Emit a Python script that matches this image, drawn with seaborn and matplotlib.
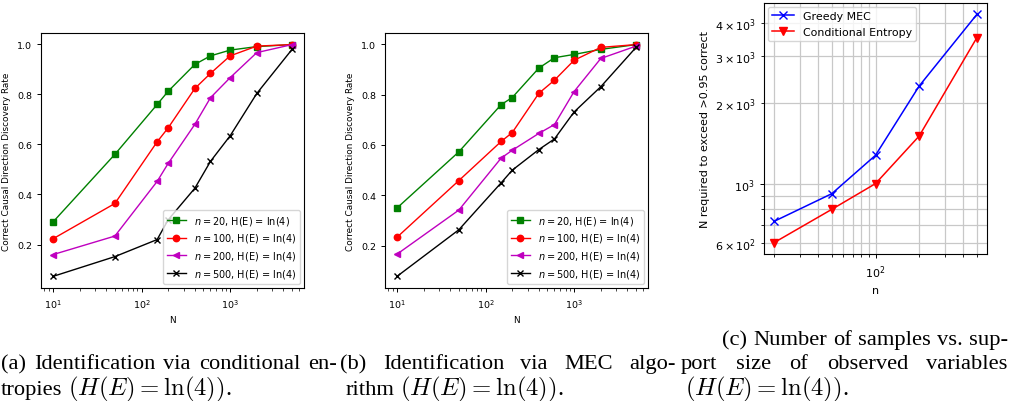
import matplotlib
matplotlib.use("Agg")
import matplotlib.pyplot as plt
import seaborn as sns
import pandas as pd

# ---------------- data ----------------
N_vals = [10, 50, 150, 200, 400, 600, 1000, 2000, 5000]
a_n20 = [0.29, 0.56, 0.759, 0.812, 0.919, 0.953, 0.976, 0.990, 0.998]
a_n100 = [0.223, 0.364, 0.610, 0.666, 0.823, 0.883, 0.953, 0.992, 0.998]
a_n200 = [0.160, 0.234, 0.452, 0.524, 0.680, 0.786, 0.866, 0.966, 0.998]
a_n500 = [0.073, 0.152, 0.220, 0.299, 0.425, 0.532, 0.634, 0.803, 0.979]
b_n20 = [0.350, 0.573, 0.760, 0.788, 0.905, 0.946, 0.959, 0.979, 0.998]
b_n100 = [0.234, 0.459, 0.614, 0.649, 0.805, 0.857, 0.936, 0.987, 0.998]
b_n200 = [0.167, 0.342, 0.548, 0.579, 0.646, 0.681, 0.812, 0.943, 0.992]
b_n500 = [0.079, 0.264, 0.450, 0.500, 0.582, 0.624, 0.731, 0.831, 0.987]
series_labels = [r"$n = 20$, H(E) = ln(4)", r"$n = 100$, H(E) = ln(4)",
                 r"$n = 200$, H(E) = ln(4)", r"$n = 500$, H(E) = ln(4)"]
support_n = [20, 50, 100, 200, 500]
greedy_mec = [722, 917, 1277, 2322, 4310]
cond_entropy = [601, 801, 1000, 1508, 3525]
method_labels = ["Greedy MEC", "Conditional Entropy"]

cap_a = ["(a) Identification via conditional en-", "tropies"]
cap_b = ["(b) Identification via MEC algo-", "rithm"]
cap_c = ["(c) Number of samples vs.  sup-", "port size of observed variables", ""]
cap_math = r"$(H(E) = \ln(4))$."

# ---------------- figure ----------------
W, H = 1011, 402
fig = plt.figure(figsize=(W / 100, H / 100), dpi=100)


def px_axes(l, r, t, b):
    return fig.add_axes([l / W, 1 - b / H, (r - l) / W, (b - t) / H])


ax_a = px_axes(41, 304, 34, 289)
ax_b = px_axes(385, 648, 34, 289)
ax_c = px_axes(764, 987, 4, 255)

FS_LEG = 7.0
styles = [("g", "s", 4.3), ("r", "o", 4.6), ("m", "<", 4.6), ("k", "x", 4.6)]

for ax, ys in [(ax_a, [a_n20, a_n100, a_n200, a_n500]),
               (ax_b, [b_n20, b_n100, b_n200, b_n500])]:
    for y, (c, m, ms), lab in zip(ys, styles, series_labels):
        df = pd.DataFrame({"N": N_vals, "rate": y})
        sns.lineplot(data=df, x="N", y="rate", ax=ax, color=c, marker=m,
                     markersize=ms, markeredgecolor=c, markeredgewidth=1.0,
                     linewidth=1.0, label=lab)
    ax.set_xscale("log")
    ax.set_xlabel("N", fontsize=6.4)
    ax.set_ylabel("Correct Causal Direction Discovery Rate", fontsize=6.4)
    ax.tick_params(labelsize=6.8, length=3, width=0.7)
    ax.tick_params(which="minor", length=1.8, width=0.5)
    ax.legend(loc="lower right", fontsize=FS_LEG, handlelength=2.0,
              borderaxespad=0.4)
    for s in ax.spines.values():
        s.set_linewidth(0.8)

FS_C = 8.0
df_c1 = pd.DataFrame({"n": support_n, "N": greedy_mec})
df_c2 = pd.DataFrame({"n": support_n, "N": cond_entropy})
sns.lineplot(data=df_c1, x="n", y="N", ax=ax_c, color="b", marker="x",
             markersize=5.5, markeredgecolor="b", markeredgewidth=1.0,
             linewidth=1.1, label=method_labels[0])
sns.lineplot(data=df_c2, x="n", y="N", ax=ax_c, color="r", marker="v",
             markersize=5.5, markeredgecolor="r", markeredgewidth=1.0,
             linewidth=1.1, label=method_labels[1])
ax_c.set_xscale("log")
ax_c.set_yscale("log")
ax_c.grid(True, which="both", color="#c8c8c8", linewidth=0.9)
ax_c.set_axisbelow(True)
ax_c.set_xlabel("n", fontsize=FS_C)
ax_c.set_ylabel("N required to exceed >0.95 correct", fontsize=FS_C)
ax_c.tick_params(which="both", labelsize=FS_C)
ax_c.tick_params(which="major", length=3, width=0.7)
ax_c.tick_params(which="minor", length=2, width=0.6)
ax_c.legend(loc="upper left", fontsize=7.9, borderaxespad=0.35)

# ---------------- captions ----------------
renderer = fig.canvas.get_renderer()
CAP_KW = dict(family="Liberation Serif", math_fontfamily="cm",
              va="baseline", ha="left")


def text_width(s, fs):
    t = fig.text(0, 0, s, fontsize=fs, **CAP_KW)
    w = t.get_window_extent(renderer).width
    t.remove()
    return w


# fit font sizes to the widths seen in the reference
TXT_FS = 16 * 326 / text_width(cap_a[0], 16)
MATH_FS = 16 * 164 / text_width(cap_math, 16)
SPACE = text_width("a a", TXT_FS) - text_width("aa", TXT_FS)


def caption_line(text, x0, x1, base):
    words = text.split()
    ts = [fig.text(0, 1 - base / H, w, fontsize=TXT_FS, **CAP_KW)
          for w in words]
    widths = [t.get_window_extent(renderer).width for t in ts]
    gap = (x1 - x0 - sum(widths)) / (len(ts) - 1)
    x = x0
    for t, w in zip(ts, widths):
        t.set_x(x / W)
        x += w + gap


def caption_last(word, x0, base):
    x = x0
    if word:
        t = fig.text(x / W, 1 - base / H, word, fontsize=TXT_FS, **CAP_KW)
        x += t.get_window_extent(renderer).width + SPACE
    fig.text(x / W, 1 - base / H, cap_math, fontsize=MATH_FS, **CAP_KW)


B1, B2, B3 = 345, 369, 395
caption_line(cap_c[0], 722, 1008, B1)
caption_line(cap_a[0], 1, 337, B2)
caption_line(cap_b[0], 340, 676, B2)
caption_line(cap_c[1], 681, 1008, B2)
caption_last(cap_a[1], 1, B3)
caption_last(cap_b[1], 346, B3)
caption_last(cap_c[2], 685, B3)

fig.savefig("out.png", dpi=100)
